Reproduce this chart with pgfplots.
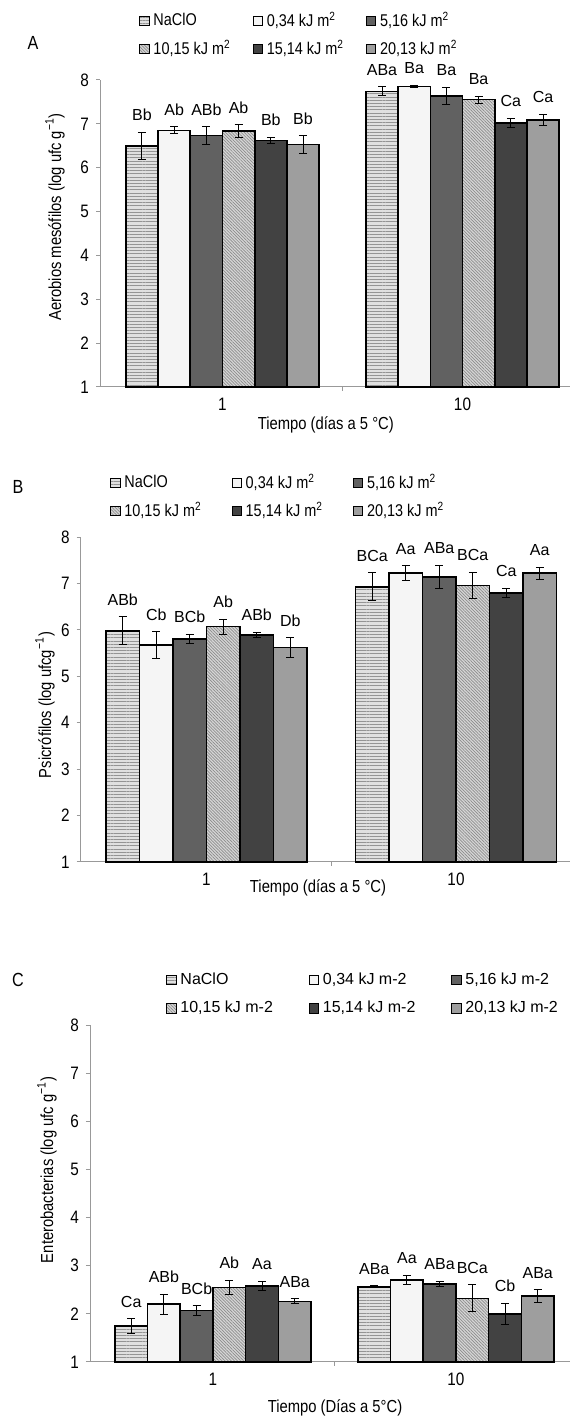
\documentclass[border=0pt]{standalone}
\usepackage{fontspec}
\setmainfont{Liberation Sans}[FakeStretch=0.85]
\newfontfamily\wide{Liberation Sans}
\usepackage{pgfplots}
\pgfplotsset{compat=1.18}
\usepackage{pgfplotstable}
\usetikzlibrary{patterns,patterns.meta}

\definecolor{cN}{gray}{0.88}
\definecolor{cNl}{gray}{0.58}
\definecolor{cA}{gray}{0.96}
\definecolor{cB}{gray}{0.38}
\definecolor{cC}{gray}{0.84}
\definecolor{cCl}{gray}{0.55}
\definecolor{cD}{gray}{0.26}
\definecolor{cF}{gray}{0.62}
\definecolor{axgray}{gray}{0.6}

% columns: x, then value / error / letters for each treatment
\pgfplotstableread{
x n ne nl a ae al b be bl c ce cl d de dl f fe fl
0 6.50 0.31 Bb 6.85 0.08 Ab 6.73 0.20 ABb 6.83 0.15 Ab 6.62 0.07 Bb 6.53 0.20 Bb
1 7.74 0.10 ABa 7.85 0.03 Ba 7.64 0.19 Ba 7.55 0.08 Ba 7.02 0.10 Ca 7.09 0.13 Ca
}\tA
\pgfplotstableread{
x n ne nl a ae al b be bl c ce cl d de dl f fe fl
0 5.98 0.30 ABb 5.67 0.29 Cb 5.80 0.10 BCb 6.07 0.16 Ab 5.89 0.06 ABb 5.62 0.21 Db
1 6.93 0.30 BCa 7.22 0.16 Aa 7.14 0.25 ABa 6.96 0.28 BCa 6.80 0.10 Ca 7.22 0.13 Aa
}\tB
\pgfplotstableread{
x n ne nl a ae al b be bl c ce cl d de dl f fe fl
0 1.75 0.15 Ca 2.20 0.21 ABb 2.07 0.10 BCb 2.55 0.15 Ab 2.58 0.10 Aa 2.26 0.05 ABa
1 2.56 0.02 ABa 2.70 0.10 Aa 2.62 0.05 ABa 2.32 0.28 BCa 2.00 0.22 Cb 2.37 0.13 ABa
}\tC

\pgfplotsset{
  sN/.style={fill=cN, postaction={pattern={Lines[angle=0,distance=1.6pt,line width=0.5pt]}, pattern color=cNl}},
  sA/.style={fill=cA},
  sB/.style={fill=cB},
  sC/.style={fill=cC, postaction={pattern={Lines[angle=-45,distance=1.1pt,line width=0.35pt]}, pattern color=cCl}},
  sD/.style={fill=cD},
  sF/.style={fill=cF},
  panel/.style={
    ybar=0pt, axis lines=left,
    axis line style={-, draw=axgray, line width=0.5pt},
    ymin=1, ymax=8, ytick={1,2,...,8},
    ytick style={draw=axgray, line width=0.5pt},
    tick align=outside, major tick length=2pt,
    xtick={0,1}, xticklabels={1,10}, xtick style={draw=none},
    extra x ticks={0.5}, extra x tick labels={},
    extra x tick style={xtick style={draw=axgray, line width=0.5pt}},
    xmax=1.5, clip=false,
    /pgf/number format/assume math mode=true,
    tick label style={font=\fontsize{9}{10}\selectfont},
    label style={font=\fontsize{8.7}{10}\selectfont},
    legend columns=3, legend cell align=left,
    legend style={draw=none, fill=none, anchor=north west,
      font=\fontsize{8.5}{10}\selectfont,
      row sep=1.5pt, inner sep=0pt},
    legend image code/.code={\draw[##1, draw=black, line width=0.4pt] (0pt,-2.3pt) rectangle (4.6pt,2.3pt);},
    anchor=south west,
    every node near coord/.append style={font=\wide\fontsize{8}{9}\selectfont, anchor=south, text=black},
  }
}

\newcommand{\ser}[4]{%
  \addplot[#1, draw=black, line width=0.8pt,
    visualization depends on={\thisrow{#3e} \as \eshift},
    nodes near coords, point meta=explicit symbolic,
    error bars/.cd, y dir=both, y explicit,
    error bar style={line width=0.5pt, black},
    error mark options={rotate=90, mark size=2pt, line width=0.5pt, black}]
    table[x=x, y=#3, y error=#3e, meta=#3l] {#2};
  \addlegendentry{#4}}

\begin{document}
\begin{tikzpicture}
\useasboundingbox (0,0) rectangle (284.5pt,711pt);

% ---------- Panel A ----------
\begin{axis}[panel, at={(50pt,517.5pt)}, x=120pt, y=21.93pt, xmin=-0.5104, bar width=16.1pt,
  every node near coord/.append style={yshift=\eshift*21.93pt+2pt},
  ylabel={Aerobios mesófilos (log ufc g\textsuperscript{−1})},
  ylabel style={at={(axis description cs:-0.0933,0.554)}, anchor=center},
  xlabel={Tiempo (días a 5 °C)},
  xlabel style={at={(axis description cs:0.468,-0.124)}, anchor=center},
  legend style={at={(axis description cs:0.081,1.2345)},
    /tikz/every even column/.append style={column sep=9pt}}]
\ser{sN}{\tA}{n}{NaClO}
\ser{sA}{\tA}{a}{0,34 kJ m\textsuperscript{2}}
\ser{sB}{\tA}{b}{5,16 kJ m\textsuperscript{2}}
\ser{sC}{\tA}{c}{10,15 kJ m\textsuperscript{2}}
\ser{sD}{\tA}{d}{15,14 kJ m\textsuperscript{2}}
\ser{sF}{\tA}{f}{20,13 kJ m\textsuperscript{2}}
\end{axis}
\node[font=\fontsize{9.5}{10}\selectfont] at (16.5pt,689.5pt) {A};

% ---------- Panel B ----------
\begin{axis}[panel, at={(40.35pt,280pt)}, x=124.75pt, y=23.21pt, xmin=-0.5042, bar width=16.75pt,
  every node near coord/.append style={yshift=\eshift*23.21pt+2pt},
  ylabel={Psicrófilos (log ufcg\textsuperscript{−1})},
  ylabel style={at={(axis description cs:-0.0714,0.483)}, anchor=center},
  xlabel={Tiempo (días a 5 °C)},
  xlabel style={at={(axis description cs:0.4746,-0.08)}, anchor=center},
  legend style={at={(axis description cs:0.0586,1.206)},
    /tikz/every even column/.append style={column sep=13pt}}]
\ser{sN}{\tB}{n}{NaClO}
\ser{sA}{\tB}{a}{0,34 kJ m\textsuperscript{2}}
\ser{sB}{\tB}{b}{5,16 kJ m\textsuperscript{2}}
\ser{sC}{\tB}{c}{10,15 kJ m\textsuperscript{2}}
\ser{sD}{\tB}{d}{15,14 kJ m\textsuperscript{2}}
\ser{sF}{\tB}{f}{20,13 kJ m\textsuperscript{2}}
\end{axis}
\node[font=\fontsize{9.5}{10}\selectfont] at (9pt,467.5pt) {B};

% ---------- Panel C ----------
\begin{axis}[panel, at={(45pt,30pt)}, x=121.5pt, y=24.07pt, xmin=-0.506, bar width=16.35pt,
  every node near coord/.append style={yshift=\eshift*24.07pt+2pt},
  ylabel={Enterobacterias (log ufc g\textsuperscript{−1})},
  ylabel style={at={(axis description cs:-0.0882,0.57)}, anchor=center},
  xlabel={Tiempo (Días a 5°C)},
  xlabel style={at={(axis description cs:0.5026,-0.1365)}, anchor=center},
  legend style={at={(axis description cs:0.156,1.169)}, font=\wide\fontsize{8}{10}\selectfont,
    row sep=3pt,
    /tikz/every even column/.append style={column sep=16pt}}]
\ser{sN}{\tC}{n}{NaClO}
\ser{sA}{\tC}{a}{0,34 kJ m-2}
\ser{sB}{\tC}{b}{5,16 kJ m-2}
\ser{sC}{\tC}{c}{10,15 kJ m-2}
\ser{sD}{\tC}{d}{15,14 kJ m-2}
\ser{sF}{\tC}{f}{20,13 kJ m-2}
\end{axis}
\node[font=\fontsize{9.5}{10}\selectfont] at (9pt,221pt) {C};
\end{tikzpicture}
\end{document}
